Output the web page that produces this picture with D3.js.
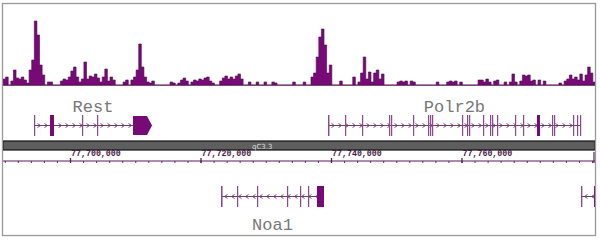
<!DOCTYPE html>
<html><head><meta charset="utf-8">
<script src="https://cdn.jsdelivr.net/npm/d3@7/dist/d3.min.js"></script>
<style>html,body{margin:0;padding:0;background:#fff;} svg{display:block}</style>
</head><body>
<svg id="c" width="600" height="241"></svg>
<script>
// ---- data ----
const domainStart = 77689730, domainEnd = 77780460;
const binSize = 400;
// ChIP-seq signal, one value per 400 bp bin starting at domainStart
const signal = [
  6,8,0,4,15,7,6,8,5,2,
  15,25,64,50,20,10,0,3,3,0,
  0,0,4,6,5,8,14,18,8,3,
  6,23,6,9,8,11,7,3,8,16,
  4,8,5,0,0,0,3,5,0,5,
  8,15,41,18,8,3,2,4,0,0,
  0,0,0,0,3,2,0,2,5,7,
  4,0,3,5,4,6,5,7,8,4,
  2,0,0,4,7,9,6,8,6,9,
  11,6,0,0,3,0,0,3,0,0,
  3,0,0,3,2,0,0,0,0,0,
  0,3,0,0,0,3,0,0,8,12,
  28,48,56,40,12,20,0,0,0,4,
  0,0,0,0,8,0,3,12,28,6,
  13,3,12,15,6,11,0,0,0,0,
  0,3,4,3,4,0,4,3,0,0,
  0,0,0,0,0,0,3,0,0,0,
  3,4,3,4,0,3,0,0,0,0,
  0,0,5,5,3,6,3,0,4,5,
  0,0,3,0,3,11,3,0,4,10,
  9,10,4,5,0,5,0,4,0,0,
  0,0,0,2,0,4,6,10,6,8,
  5,11,4,10,18,12,3
];
const signalMax = 66;

const majorTicks = [77700000, 77720000, 77740000, 77760000];
const majorLabels = ["77,700,000", "77,720,000", "77,740,000", "77,760,000"];
const minorStep = 2000;
const bandLabel = "qC3.3";

const geneNames  = ["Rest", "Polr2b", "Noa1", ""];
const geneStrand = ["+", "+", "-", "-"];
const geneRow    = [0, 0, 1, 1];
const geneStart  = [77694483, 77739541, 77723142, 77778316];
const geneEnd    = [77712567, 77778300, 77738928, 77782000];
const restExons = [[77694483,77694640],[77696935,77697548],[77701839,77701990],[77704138,77704290],[77709655,77712567]];
const polr2bExons = [[77739541,77739760],[77742147,77742300],[77744752,77744905],[77748890,77749043],[77749196,77749349],
  [77752568,77752721],[77754867,77755020],[77755174,77755327],[77755480,77755633],[77760078,77760231],
  [77760844,77760997],[77761151,77761304],[77763296,77763449],[77764369,77764522],[77764676,77764829],
  [77765442,77765595],[77768201,77768354],[77769427,77769580],[77771572,77772032],[77773871,77774024],
  [77774178,77774331],[77777090,77777243],[77777703,77777856],[77778163,77778300]];
const noa1Exons = [[77723142,77723380],[77725594,77725747],[77728660,77728813],[77733257,77733410],
  [77735250,77735403],[77736476,77736629],[77737855,77738928]];
const partialExons = [[77778316,77778520],[77780300,77782000]];
const geneExons = [restExons, polr2bExons, noa1Exons, partialExons];
const pointedLastExon = [true, false, false, false];

// ---- layout ----
const L = 3, R = 595, T = 4, B = 235;
const svg = d3.select("#c");
const purple = "#780a78";
const x = d3.scaleLinear().domain([domainStart, domainEnd]).range([L, R]);
const y = d3.scaleLinear().domain([0, signalMax]).range([85, 19]);

svg.append("defs").append("clipPath").attr("id","clip")
  .append("rect").attr("x",L).attr("y",T).attr("width",R-L).attr("height",B-T);
const g = svg.append("g").attr("clip-path","url(#clip)");

// signal track
const pts = signal.map((v,i)=>({p: domainStart + i*binSize, v}));
pts.push({p: domainStart + signal.length*binSize, v: 0});
const area = d3.area().x(d=>x(d.p)).y0(y(0)).y1(d=>y(d.v)).curve(d3.curveStepAfter);
g.append("path").datum(pts).attr("d", area)
  .attr("fill", purple).attr("stroke", "#4e0a4e").attr("stroke-width", 0.6);
g.append("line").attr("x1",L).attr("x2",R).attr("y1",y(0)+0.5).attr("y2",y(0)+0.5)
  .attr("stroke","#7a4a7a").attr("stroke-width",1);

// genes
const rowY = [125.5, 196.5];
const exH = 21;
geneNames.forEach((name, gi) => {
  const cy = rowY[geneRow[gi]];
  const x0 = x(geneStart[gi]), x1 = x(geneEnd[gi]);
  const gg = g.append("g");
  gg.append("line").attr("x1",x0).attr("x2",x1).attr("y1",cy).attr("y2",cy)
    .attr("stroke","#6a3a6a").attr("stroke-width",1);
  // strand chevrons
  const dir = geneStrand[gi] === "+" ? 1 : -1;
  for (let px = x0 + 5; px < x1 - 3; px += 7) {
    gg.append("path")
      .attr("d", `M${px - dir*1.5},${cy-2}L${px + dir*1.5},${cy}L${px - dir*1.5},${cy+2}`)
      .attr("fill","none").attr("stroke","#6a3a6a").attr("stroke-width",0.9);
  }
  const exons = geneExons[gi];
  exons.forEach((e, ei) => {
    const ex0 = x(e[0]);
    const w = Math.max(1.2, x(e[1]) - ex0);
    if (pointedLastExon[gi] && ei === exons.length - 1) {
      const tip = 5;
      gg.append("path")
        .attr("d", `M${ex0},${cy-exH/2+1}L${ex0+w-tip},${cy-exH/2+1}L${ex0+w},${cy}L${ex0+w-tip},${cy+exH/2-1}L${ex0},${cy+exH/2-1}Z`)
        .attr("fill", purple);
    } else {
      gg.append("rect").attr("x", ex0).attr("y", cy-exH/2).attr("width", w).attr("height", exH)
        .attr("fill", w < 2 ? "#8a4a8a" : purple);
    }
  });
  if (name) {
    const ly = geneRow[gi] === 0 ? 111.5 : 230;
    svg.append("text").attr("x",(x0+x1)/2).attr("y",ly).attr("text-anchor","middle")
      .attr("font-family","'Liberation Mono', 'DejaVu Sans Mono', monospace")
      .attr("font-size",17).attr("fill","#777").text(name);
  }
});

// ideogram band
svg.append("rect").attr("x",L).attr("y",141).attr("width",R-L).attr("height",9)
  .attr("fill","#5e5e5e").attr("stroke","#111").attr("stroke-width",1.2);
svg.append("text").attr("x",252).attr("y",148.5).attr("font-family","'DejaVu Sans', sans-serif")
  .attr("font-size",7).attr("fill","#ddd").text(bandLabel);

// axis
const axisY = 161;
const minor = d3.range(Math.ceil(domainStart/minorStep)*minorStep, domainEnd, minorStep);
const ax = svg.append("g").attr("transform",`translate(0,${axisY})`)
  .call(d3.axisBottom(x).tickValues(minor).tickSize(2).tickFormat(""));
ax.select(".domain").remove();
ax.selectAll("line").attr("stroke", "#6a2a6a");
const axM = svg.append("g").attr("transform",`translate(0,${axisY+2})`)
  .call(d3.axisTop(x).tickValues(majorTicks).tickSize(5).tickFormat(""));
axM.select(".domain").remove();
axM.selectAll("line").attr("stroke", "#5a1a5a").attr("stroke-width",1.3);
svg.append("line").attr("x1",L).attr("x2",R).attr("y1",axisY).attr("y2",axisY)
  .attr("stroke","#5a1a5a").attr("stroke-width",1.2);
svg.append("line").attr("x1",R-1).attr("x2",R-1).attr("y1",152).attr("y2",163)
  .attr("stroke","#5a1a5a").attr("stroke-width",1.2);
svg.selectAll(".majlab").data(majorTicks).enter().append("text")
  .attr("x", d => x(d) + 1).attr("y", 156)
  .attr("font-family","'Liberation Mono', 'DejaVu Sans Mono', monospace")
  .attr("font-weight","bold").attr("font-size",8.3).attr("fill","#4a1a4a")
  .text((d,i) => majorLabels[i]);

// frame
svg.append("rect").attr("x",L-0.5).attr("y",T-0.5).attr("width",R-L+1).attr("height",B-T+1)
  .attr("fill","none").attr("stroke","#999").attr("stroke-width",1.3);
</script>
</body></html>
